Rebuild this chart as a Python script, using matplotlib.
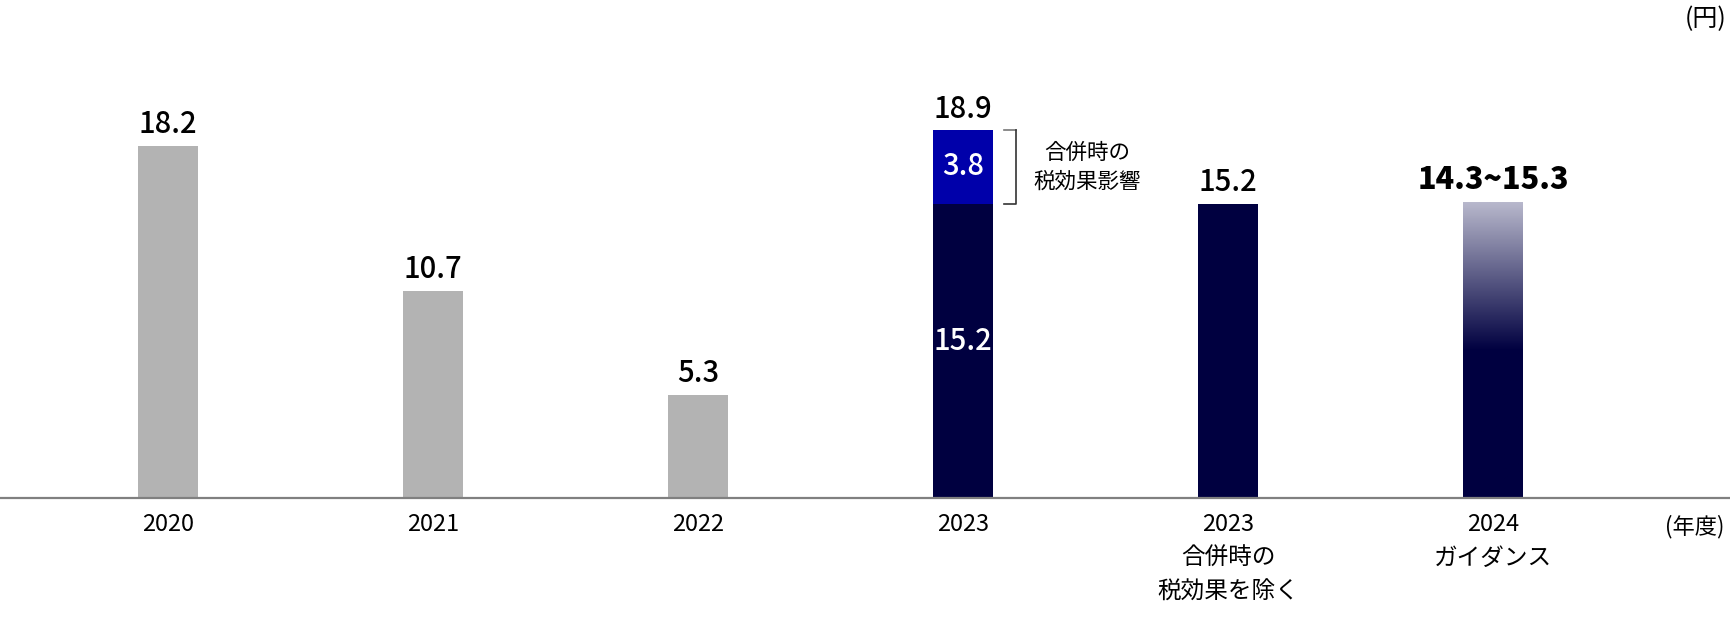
import matplotlib.pyplot as plt
import numpy as np
from matplotlib.colors import LinearSegmentedColormap

plt.rcParams['font.family'] = ['Noto Sans CJK JP', 'DejaVu Sans']

# data
categories = ['2020', '2021', '2022', '2023', '2023\n合併時の\n税効果を除く', '2024\nガイダンス']
base_values = [18.2, 10.7, 5.3, 15.2, 15.2, 15.3]
tax_effect = [0, 0, 0, 3.8, 0, 0]
top_labels = ['18.2', '10.7', '5.3', '18.9', '15.2', '14.3~15.3']
inside_labels = ['', '', '', '15.2', '', '']
tax_label = '3.8'
tax_note = '合併時の\n税効果影響'

GREY = '#b3b3b3'
NAVY = '#000040'
BLUE = '#0000aa'
bar_colors = [GREY, GREY, GREY, NAVY, NAVY, NAVY]

fig = plt.figure(figsize=(17.3, 6.25), dpi=100)
ax = fig.add_axes([0, 0.204, 1, 0.796])

x = np.arange(len(categories))
w = 0.226
bars = ax.bar(x, base_values, width=w, color=bar_colors, zorder=2)
tax_bars = ax.bar(x, tax_effect, bottom=base_values, width=w, color=BLUE, zorder=2)

# gradient for the guidance bar
g = bars[5]
g.set_facecolor('none')
cmap = LinearSegmentedColormap.from_list('g', [NAVY, NAVY, '#b8b8cc'])
grad = np.linspace(0, 1, 256).reshape(-1, 1)
im = ax.imshow(grad, cmap=cmap, aspect='auto', origin='lower',
               extent=[g.get_x(), g.get_x() + g.get_width(), 0, g.get_height()], zorder=2)
im.set_clip_path(g)

ax.set_xlim(-0.634, 5.894)
ax.set_ylim(0, 25.73)

# value labels above bars
for i in range(len(categories)):
    top = base_values[i] + tax_effect[i]
    if i == 5:
        ax.annotate(top_labels[i], (x[i], top), xytext=(0, 5), textcoords='offset points',
                    ha='center', va='bottom', fontsize=22, fontweight='black', color='black')
    else:
        ax.annotate(top_labels[i], (x[i], top), xytext=(0, 4), textcoords='offset points',
                    ha='center', va='bottom', fontsize=21, fontweight='medium', color='black')

# labels inside the 2023 stack
ax.text(x[3], base_values[3] * 0.53, inside_labels[3], ha='center', va='center',
        fontsize=21, fontweight='medium', color='white', zorder=3)
ax.text(x[3], base_values[3] + tax_effect[3] / 2, tax_label, ha='center', va='center',
        fontsize=21, fontweight='medium', color='white', zorder=3)

# bracket for tax effect
bx = x[3] + w / 2 + 0.087
y0 = base_values[3]
y1 = base_values[3] + tax_effect[3]
ax.plot([bx - 0.045, bx], [y1, y1], color='#777777', lw=1.2, zorder=2)
ax.plot([bx, bx, bx - 0.045], [y1, y0, y0], color='#333333', lw=1.2, zorder=2)
ax.text(bx + 0.27, (y0 + y1) / 2, tax_note, ha='center', va='center', fontsize=15.5,
        linespacing=1.4, color='black')

ax.set_xticks(x)
ax.set_xticklabels(categories, fontsize=17, linespacing=1.6)
ax.tick_params(axis='x', length=0, pad=11)
ax.set_yticks([])
for s in ['top', 'left', 'right']:
    ax.spines[s].set_visible(False)
ax.spines['bottom'].set_color('#808080')
ax.spines['bottom'].set_linewidth(1.6)

fig.text(0.998, 0.99, '(円)', ha='right', va='top', fontsize=18)
fig.text(0.997, 0.157, '(年度)', ha='right', va='center', fontsize=16)

fig.savefig('out.png', dpi=100, facecolor='white')
